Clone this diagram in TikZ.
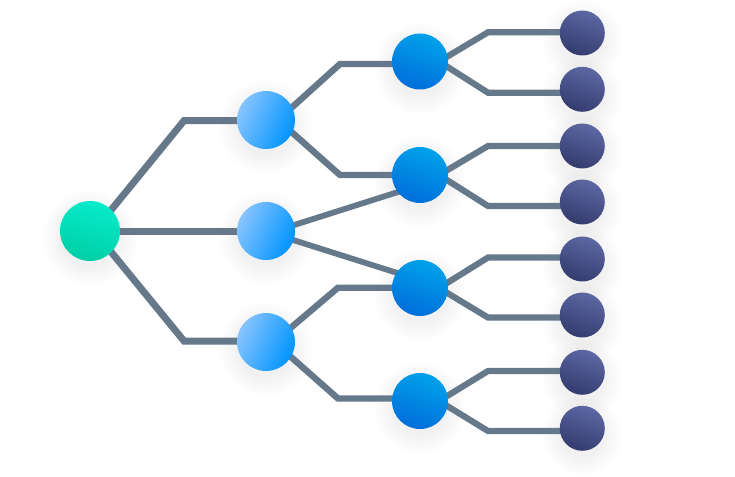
\documentclass[tikz,border=0pt]{standalone}
\usetikzlibrary{backgrounds}
\definecolor{edgegray}{HTML}{66798A}
\definecolor{rootT}{HTML}{06EBCB}
\definecolor{rootB}{HTML}{00CFA6}
\definecolor{midL}{HTML}{88C4FF}
\definecolor{midR}{HTML}{0094FF}
\definecolor{innerT}{HTML}{00A2EA}
\definecolor{innerB}{HTML}{006EDB}
\definecolor{leafT}{HTML}{5C68A3}
\definecolor{leafB}{HTML}{343B6E}
\tikzset{
	vertex/.style={circle, inner sep=0pt, outer sep=0pt},
	rootvertex/.style={vertex, minimum size=60pt, top color=rootT, bottom color=rootB, shading angle=-15},
	midvertex/.style={vertex, minimum size=58pt, top color=midL, bottom color=midR, shading angle=65},
	innervertex/.style={vertex, minimum size=56pt, top color=innerT, bottom color=innerB, shading angle=-20},
	leafvertex/.style={vertex, minimum size=45pt, top color=leafT, bottom color=leafB, shading angle=-20},
	edgeroot/.style={draw=edgegray, line width=7pt, miter limit=3},
	edgemid/.style={draw=edgegray, line width=6.4pt, miter limit=3},
	edgecross/.style={draw=edgegray, line width=5.8pt},
	edgeleaf/.style={draw=edgegray, line width=6.2pt, miter limit=3},
	softshadow/.style={fill=black, opacity=0.0035}
}
\newcommand{\VertexLeaf}[2]{\node[leafvertex] (#1) at (582.3,#2) {};}
\newcommand{\ShadowAt}[2]{\foreach \k in {0,...,13}{\fill[softshadow] ([yshift=-7pt]#1.center) circle ({#2+18-\k*1.4});}}
\begin{document}
\begin{tikzpicture}[x=1pt,y=-1pt]
\useasboundingbox (0,0) rectangle (735,476);
\node[rootvertex] (R) at (90,231) {};
	\node[midvertex] (A1) at (266,120) {};
	\node[midvertex] (A2) at (266,231) {};
	\node[midvertex] (A3) at (266,342) {};
	\node[innervertex] (B1) at (420,61.5) {};
	\node[innervertex] (B2) at (420,175) {};
	\node[innervertex] (B3) at (420,288) {};
	\node[innervertex] (B4) at (420,401) {};
	\VertexLeaf{C1}{33}
	\VertexLeaf{C2}{89.3}
	\VertexLeaf{C3}{146}
	\VertexLeaf{C4}{202}
	\VertexLeaf{C5}{259}
	\VertexLeaf{C6}{315}
	\VertexLeaf{C7}{372.3}
	\VertexLeaf{C8}{428.3}

	\coordinate (RA1) at (184,120.7);
	\coordinate (RA3) at (184,341);
	\coordinate (A1B1) at (340,64);
	\coordinate (A1B2) at (340,175);
	\coordinate (A3B3) at (338,287.7);
	\coordinate (A3B4) at (338,398.5);
	\coordinate (B1C1) at (488,32.3);
	\coordinate (B1C2) at (488,92.7);
	\coordinate (B2C3) at (488,146);
	\coordinate (B2C4) at (488,206);
	\coordinate (B3C5) at (488,257.5);
	\coordinate (B3C6) at (488,317.5);
	\coordinate (B4C7) at (488,371);
	\coordinate (B4C8) at (488,431);

	\begin{scope}[on background layer]
	\ShadowAt{R}{30}
	\ShadowAt{A1}{29}
	\ShadowAt{A2}{29}
	\ShadowAt{A3}{29}
	\ShadowAt{B1}{28}
	\ShadowAt{B2}{28}
	\ShadowAt{B3}{28}
	\ShadowAt{B4}{28}
	\foreach \c in {C1,C2,C3,C4,C5,C6,C7,C8}{\ShadowAt{\c}{22.5}}

	\draw[edgeroot] ([xshift=4pt]R.center) -- (RA1) -- (A1.center |- RA1);
	\draw[edgeroot] (R.center) -- (A2.center);
	\draw[edgeroot] ([xshift=4pt]R.center) -- (RA3) -- (A3.center |- RA3);
	\draw[edgemid] ([xshift=12pt]A1.center) -- (A1B1) -- (A1B1 -| B1.center);
	\draw[edgemid] ([xshift=12pt]A1.center) -- (A1B2) -- (A1B2 -| B2.center);
	\draw[edgecross] ([xshift=4pt,yshift=-1.7pt]A2.center) -- ([xshift=-10pt,yshift=-13.2pt]B2.center);
	\draw[edgecross] ([xshift=4pt,yshift=-1.7pt]A2.center) -- ([xshift=-10pt,yshift=11pt]B3.center);
	\draw[edgemid] ([xshift=8pt]A3.center) -- (A3B3) -- (A3B3 -| B3.center);
	\draw[edgemid] ([xshift=8pt]A3.center) -- (A3B4) -- (A3B4 -| B4.center);
	\draw[edgeleaf] ([xshift=19pt]B1.center) -- (B1C1) -- (B1C1 -| C1.center);
	\draw[edgeleaf] ([xshift=19pt]B1.center) -- (B1C2) -- (B1C2 -| C2.center);
	\draw[edgeleaf] ([xshift=19pt]B2.center) -- (B2C3) -- (B2C3 -| C3.center);
	\draw[edgeleaf] ([xshift=19pt]B2.center) -- (B2C4) -- (B2C4 -| C4.center);
	\draw[edgeleaf] ([xshift=19pt]B3.center) -- (B3C5) -- (B3C5 -| C5.center);
	\draw[edgeleaf] ([xshift=19pt]B3.center) -- (B3C6) -- (B3C6 -| C6.center);
	\draw[edgeleaf] ([xshift=19pt]B4.center) -- (B4C7) -- (B4C7 -| C7.center);
	\draw[edgeleaf] ([xshift=19pt]B4.center) -- (B4C8) -- (B4C8 -| C8.center);
	\end{scope}

\end{tikzpicture}
\end{document}
